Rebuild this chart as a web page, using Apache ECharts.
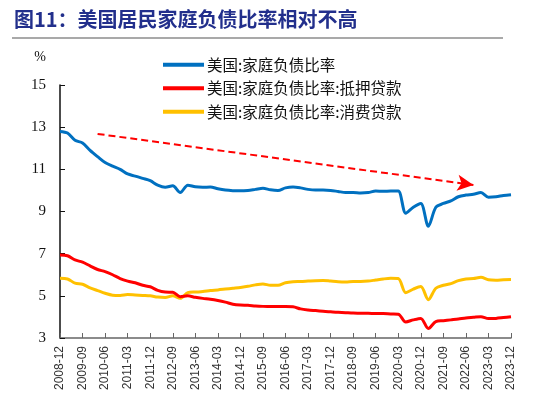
<!DOCTYPE html>
<html>
<head>
<meta charset="utf-8">
<script src="https://cdn.jsdelivr.net/npm/echarts@6/dist/echarts.min.js"></script>
<style>html,body{margin:0;padding:0;background:#fff}#c{width:539px;height:407px}</style>
</head>
<body>
<div id="c"></div>
<script>
// categories: quarterly 2008-12 .. 2023-12
const categories = [];
(function(){
  const qs = ['03','06','09','12'];
  categories.push('2008-12');
  for (let y = 2009; y <= 2023; y++) for (const q of qs) categories.push(y + '-' + q);
})();

const totalRatio = [12.8,12.72,12.38,12.25,11.9,11.6,11.32,11.15,11.0,10.78,10.68,10.57,10.46,10.25,10.15,10.22,9.9,10.25,10.17,10.15,10.16,10.08,10.02,9.99,9.98,10.0,10.05,10.1,10.03,10.0,10.12,10.16,10.12,10.05,10.02,10.02,10.0,9.95,9.9,9.9,9.88,9.9,9.97,9.96,9.97,9.97,8.92,9.2,9.38,8.3,9.2,9.38,9.5,9.7,9.78,9.82,9.9,9.68,9.7,9.76,9.8];
const mortgageRatio = [6.94,6.9,6.7,6.6,6.42,6.25,6.15,6.0,5.82,5.7,5.62,5.5,5.43,5.26,5.18,5.17,4.96,5.0,4.93,4.88,4.84,4.78,4.7,4.6,4.56,4.55,4.52,4.5,4.49,4.49,4.49,4.48,4.38,4.33,4.3,4.27,4.24,4.22,4.2,4.18,4.17,4.17,4.16,4.16,4.14,4.13,3.76,3.86,3.93,3.45,3.78,3.82,3.86,3.9,3.95,3.98,4.01,3.92,3.93,3.97,4.01];
const consumerRatio = [5.83,5.8,5.6,5.55,5.38,5.25,5.12,5.03,5.02,5.06,5.04,5.02,5.0,4.94,4.92,5.0,4.88,5.15,5.18,5.2,5.25,5.28,5.32,5.36,5.4,5.45,5.52,5.56,5.5,5.5,5.62,5.67,5.68,5.7,5.72,5.73,5.7,5.67,5.66,5.68,5.68,5.7,5.75,5.8,5.83,5.82,5.15,5.32,5.44,4.82,5.36,5.5,5.58,5.72,5.8,5.82,5.88,5.76,5.74,5.76,5.77];
const seriesNames = ['美国:家庭负债比率','美国:家庭负债比率:抵押贷款','美国:家庭负债比率:消费贷款'];
const yTicks = {min: 3, max: 15, interval: 2};
// trend arrow endpoints (category index, value)
const trendStart = [5.3, 12.68];
const trendEnd = [55.4, 10.26];

const chart = echarts.init(document.getElementById('c'));
const lineCommon = {type: 'line', showSymbol: false, smooth: 0.3, lineStyle: {width: 3}};
chart.setOption({
  animation: false,
  backgroundColor: '#fff',
  graphic: [
    {type: 'text', left: 14, top: 9, style: {text: '图11：美国居民家庭负债比率相对不高', fill: '#222f8c', font: 'bold 20px "Noto Sans CJK SC"'}},
    {type: 'line', shape: {x1: 12, y1: 38, x2: 503, y2: 38}, style: {stroke: '#8c8c8c', lineWidth: 1.5}}
  ],
  legend: {
    orient: 'vertical', left: 158, top: 52, itemWidth: 41, itemHeight: 10, itemGap: 8,
    textStyle: {fontSize: 15.5, color: '#111', fontFamily: '"Noto Sans CJK SC"', padding: [0, 0, 0, -2]},
    data: seriesNames.map(n => ({name: n, icon: 'path://M0,0 L41,0 L41,4 L0,4 Z'}))
  },
  grid: {left: 60, right: 28, top: 85, bottom: 69},
  xAxis: {
    type: 'category', data: categories, boundaryGap: false,
    axisLine: {lineStyle: {color: '#666', width: 1.5}},
    axisTick: {inside: true, length: 5, interval: 2, lineStyle: {color: '#666'}},
    axisLabel: {interval: 2, rotate: 90, fontSize: 12, color: '#333', fontFamily: '"Liberation Sans"', margin: 8}
  },
  yAxis: {
    type: 'value', min: yTicks.min, max: yTicks.max, interval: yTicks.interval,
    name: '%', nameGap: 21,
    nameTextStyle: {fontSize: 14, color: '#111', fontFamily: '"Liberation Serif"', align: 'right', padding: [0, 14, 0, 0]},
    axisLine: {show: true, lineStyle: {color: '#111', width: 1.5}},
    axisTick: {show: true, inside: true, length: 5, lineStyle: {color: '#111'}},
    splitLine: {show: false},
    axisLabel: {fontSize: 15, color: '#111', fontFamily: '"Liberation Serif"', margin: 14}
  },
  series: [
    Object.assign({}, lineCommon, {name: seriesNames[0], data: totalRatio, color: '#0070c0', z: 3,
      markLine: {
        silent: true, symbol: ['none', 'arrow'], symbolSize: [12, 16], label: {show: false},
        lineStyle: {color: '#ff0000', type: [7, 4], width: 2},
        data: [[{coord: trendStart}, {coord: trendEnd}]]
      }}),
    Object.assign({}, lineCommon, {name: seriesNames[1], data: mortgageRatio, color: '#ff0000', z: 2}),
    Object.assign({}, lineCommon, {name: seriesNames[2], data: consumerRatio, color: '#ffc000', z: 1})
  ]
});
</script>
</body>
</html>
